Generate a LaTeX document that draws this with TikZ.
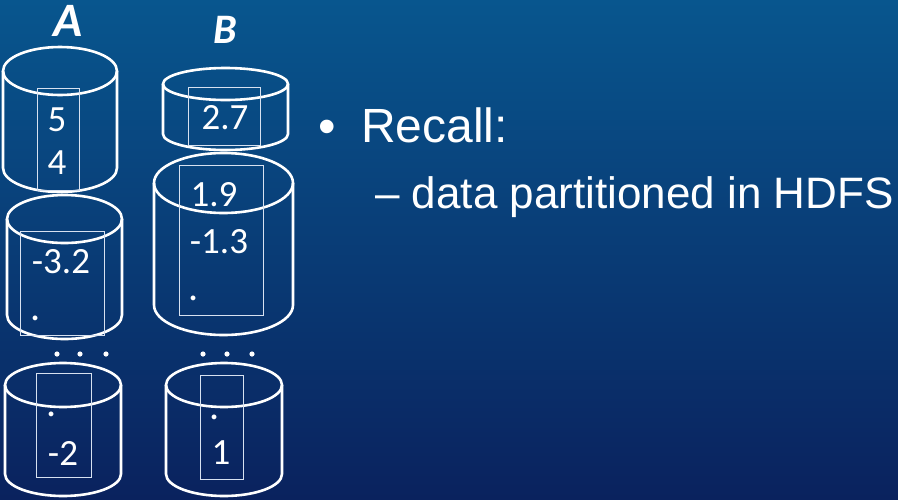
\documentclass[tikz,border=0pt]{standalone}
\usepackage{fontspec}
\setmainfont{Carlito}
\newfontfamily\slidefont{Liberation Sans}
\definecolor{bgtop}{RGB}{8,86,142}
\definecolor{bgbot}{RGB}{10,34,94}
\definecolor{slotline}{RGB}{215,225,240}
% one storage block: centre x, top-ellipse y, bottom-ellipse y, x radius, y radius
\newcommand\storagecan[5]{%
  \draw[can] (#1,#2) ellipse [x radius=#4, y radius=#5];
  \draw[can] (#1-#4,#2) -- (#1-#4,#3)
    arc[start angle=180, end angle=0, x radius=#4, y radius=#5] -- (#1+#4,#2);}
\begin{document}
\begin{tikzpicture}[x=1pt,y=-1pt,
  can/.style={draw=white,line width=2.6pt},
  slot/.style={draw=slotline,line width=0.9pt},
  val/.style={text=white,inner sep=0pt,font=\fontsize{37}{37}\selectfont},
  dotval/.style={text=white,inner sep=0pt,anchor=base,font=\fontsize{40}{40}\selectfont},
  colname/.style={text=white,inner sep=0pt,font=\bfseries\itshape\fontsize{#1}{#1}\selectfont},
  more/.style={fill=white,draw=none},
  slidetext/.style={text=white,inner sep=0pt,anchor=base west,font=\slidefont\fontsize{#1}{#1}\selectfont}]
\shade[top color=bgtop,bottom color=bgbot] (0,0) rectangle (898,499);
\useasboundingbox (0,0) rectangle (898,499);

% column headers
\node[colname=48] (hA) at (68,21) {A};
\node[colname=42] (hB) at (225,30) {B};

% partitions of A
\storagecan{60}{71}{168}{57}{24}
\draw[slot] (37,88) rectangle (79,190);
\node[val] (a1) at (57,120) {5};
\node[val] (a2) at (57,163) {4};

\storagecan{64.5}{219}{315}{57.5}{24}
\draw[slot] (20,231) rectangle (104,335);
\node[val] (a3) at (61,262) {-3.2};
\node[dotval] (a4) at (36,320) {.};

\storagecan{63}{385}{474}{58}{22}
\draw[slot] (36,373) rectangle (91,477);
\node[dotval] (a5) at (52,416) {.};
\node[val] (a6) at (63,453) {-2};

% partitions of B
\storagecan{225.5}{84}{134}{62.5}{16}
\draw[slot] (188,87) rectangle (260,145);
\node[val] (b1) at (225,118) {2.7};

\storagecan{223.5}{183}{305}{69.5}{30}
\draw[slot] (179,165) rectangle (263,315);
\node[val] (b2) at (214,195) {1.9};
\node[val] (b3) at (219,242) {-1.3};
\node[dotval] (b4) at (194,300) {.};

\storagecan{224}{385}{474}{58}{22}
\draw[slot] (200,375) rectangle (243,479);
\node[dotval] (b5) at (215,419) {.};
\node[val] (b6) at (221,453) {1};

% ellipsis between partitions
\foreach \x in {57,80,106,203,227,252}
  \fill[more] (\x,354) circle (2.6);

% bullet text
\node[slidetext=50] (bul) at (318,143) {•};
\node[slidetext=48] (recall) at (361,142) {Recall:};
\node[slidetext=44] (sub) at (375,208) {– data partitioned in HDFS};
\end{tikzpicture}
\end{document}
